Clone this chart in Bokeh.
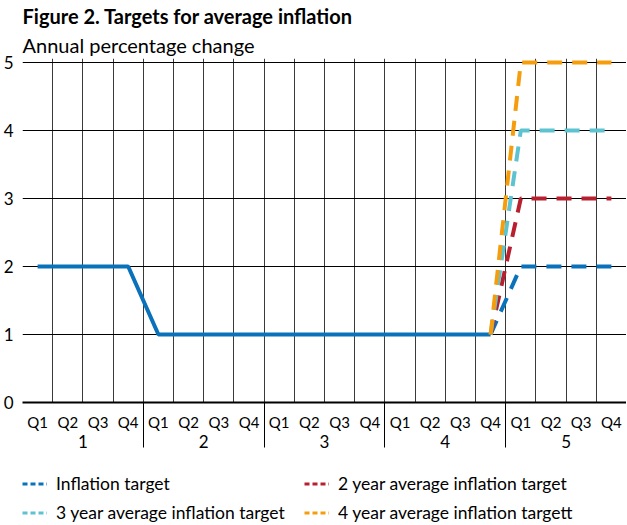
from bokeh.plotting import figure
from bokeh.layouts import column
from bokeh.models import (Range1d, FixedTicker, LinearAxis, Legend, LegendItem,
                          Title, Grid)
from bokeh.embed import file_html
from bokeh.resources import INLINE

# ---- data ----
quarters = ["Q1", "Q2", "Q3", "Q4"]
years = ["1", "2", "3", "4", "5"]
history = [2, 2, 2, 2, 1, 1, 1, 1, 1, 1, 1, 1, 1, 1, 1, 1]   # year 1 Q1 .. year 4 Q4
target_start = 15                                             # targets start at year 4 Q4
inflation_target = [1, 2, 2, 2, 2]
avg2_target = [1, 3, 3, 3, 3]
avg3_target = [1, 4, 4, 4, 4]
avg4_target = [1, 5, 5, 5, 5]
series_labels = ["Inflation target", "2 year average inflation target",
                 "3 year average inflation target", "4 year average inflation targett"]
y_ticks = [0, 1, 2, 3, 4, 5]

FONT = "Lato"
BLUE = "#0a72ba"
RED = "#b8202f"
CYAN = "#5ec3d0"
ORANGE = "#f59d0c"
colors = [BLUE, RED, CYAN, ORANGE]

n_q = len(quarters) * len(years)
q_labels = quarters * len(years)
centers = [i + 0.5 for i in range(n_q)]

p = figure(width=626, height=467,
           x_range=Range1d(0, n_q), y_range=Range1d(0, 5.06),
           output_backend="svg", toolbar_location=None,
           x_axis_type=None, y_axis_type=None,
           title="Figure 2. Targets for average inflation",
           min_border_left=0, min_border_right=0, min_border_top=0,
           min_border_bottom=65)
p.outline_line_color = None
p.title.text_font = FONT
p.title.text_font_size = "20px"
p.title.text_font_style = "bold"
p.title.text_color = "#000000"
p.title.standoff = 2
p.title.offset = 0
p.add_layout(Title(text="Annual percentage change", text_font=FONT,
                   text_font_size="20px", text_font_style="normal",
                   text_color="#000000", standoff=4), "above")

# grids
vgrid = Grid(dimension=0, ticker=FixedTicker(ticks=list(range(n_q + 1))),
             grid_line_color="#3a3a3a", grid_line_width=1)
hgrid = Grid(dimension=1, ticker=FixedTicker(ticks=y_ticks[1:]),
             grid_line_color="#000000", grid_line_width=1)
p.add_layout(vgrid)
p.add_layout(hgrid)

# y axis
yax = LinearAxis(ticker=FixedTicker(ticks=y_ticks))
yax.axis_line_color = None
yax.major_tick_line_color = None
yax.minor_tick_line_color = None
yax.major_tick_out = 0
yax.major_label_text_font = FONT
yax.major_label_text_font_size = "17px"
yax.major_label_text_color = "#000000"
yax.major_label_standoff = 9
p.add_layout(yax, "left")

# x axis: quarters, with year separators drawn as long minor ticks
year_seps = [len(quarters) * k for k in range(1, len(years))]
xq = LinearAxis(ticker=FixedTicker(ticks=centers, minor_ticks=year_seps),
                major_label_overrides={c: q for c, q in zip(centers, q_labels)})
xq.axis_line_color = "#000000"
xq.axis_line_width = 2
xq.major_tick_line_color = None
xq.major_tick_out = 0
xq.major_tick_in = 0
xq.minor_tick_line_color = "#000000"
xq.minor_tick_line_width = 1
xq.minor_tick_out = 45
xq.minor_tick_in = 0
xq.major_label_text_font = FONT
xq.major_label_text_font_size = "15px"
xq.major_label_text_color = "#000000"
xq.major_label_standoff = -35
p.add_layout(xq, "below")

year_centers = [len(quarters) * k + len(quarters) / 2 for k in range(len(years))]
xy = LinearAxis(ticker=FixedTicker(ticks=year_centers),
                major_label_overrides={c: y for c, y in zip(year_centers, years)})
xy.axis_line_color = None
xy.major_tick_line_color = None
xy.minor_tick_line_color = None
xy.major_tick_out = 0
xy.major_tick_in = 0
xy.major_label_text_font = FONT
xy.major_label_text_font_size = "17px"
xy.major_label_text_color = "#000000"
xy.major_label_standoff = 1
p.add_layout(xy, "below")

# history line
p.line(centers[:len(history)], history, line_width=4, line_color=BLUE)

# target lines
series = [inflation_target, avg2_target, avg3_target, avg4_target]
for vals, col in zip(series, colors):
    xs = centers[target_start:target_start + len(vals)]
    p.line(xs, vals, line_width=4, line_color=col, line_dash="15 10")

# legend in its own small figure below the chart (hidden copies of the series
# give the legend its swatches)
lf = figure(width=626, height=56, output_backend="svg", toolbar_location=None,
            x_axis_type=None, y_axis_type=None,
            x_range=Range1d(0, 1), y_range=Range1d(0, 1),
            min_border_left=22, min_border_right=0, min_border_top=6, min_border_bottom=0)
lf.outline_line_color = None
lf.xgrid.visible = False
lf.ygrid.visible = False
items = {}
for vals, col, lab in zip(series, colors, series_labels):
    xs = centers[target_start:target_start + len(vals)]
    r = lf.line(xs, vals, line_width=3.2, line_color=col, line_dash="5 3", visible=False)
    items[lab] = LegendItem(label=lab, renderers=[r])

# legend fills column by column: order so rows read (1,2) / (3,4)
legend_order = [series_labels[0], series_labels[2], series_labels[1], series_labels[3]]
legend = Legend(items=[items[k] for k in legend_order], ncols=2, location="top_left")
legend.label_text_font = FONT
legend.label_text_font_size = "17.5px"
legend.label_text_color = "#000000"
legend.border_line_color = None
legend.background_fill_alpha = 0
legend.inactive_fill_alpha = 0
legend.glyph_width = 25
legend.glyph_height = 17
legend.label_standoff = 9
legend.label_width = 240
legend.spacing = 8
legend.padding = 0
legend.label_height = 17
legend.margin = 0
lf.add_layout(legend)

layout = column(p, lf, spacing=0)
open("out.html", "w").write(file_html(layout, INLINE))
